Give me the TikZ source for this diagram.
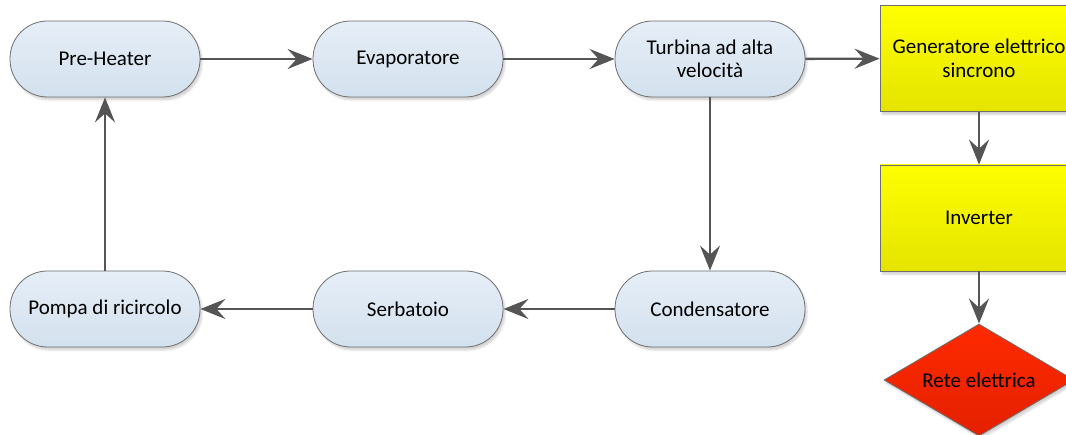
\documentclass[tikz,border=0pt]{standalone}
\usepackage{fontspec}
\setmainfont{Carlito}
\usetikzlibrary{arrows.meta,shapes.geometric,shadows.blur}
\definecolor{bluetop}{HTML}{E6EEF7}
\definecolor{bluebot}{HTML}{D3E1EE}
\definecolor{yeltop}{HTML}{FFFF00}
\definecolor{yelbot}{HTML}{E4E400}
\definecolor{redtop}{HTML}{FF2A00}
\definecolor{redbot}{HTML}{E42000}
\definecolor{edgegray}{HTML}{6E6E6E}
\definecolor{arrowgray}{HTML}{555555}
\tikzset{
  every node/.style={font=\fontsize{21}{23.5}\selectfont, text=black},
  procbox/.style={draw=edgegray, line width=0.8pt, rectangle, rounded corners=37.5pt,
    minimum width=190pt, minimum height=76pt, align=center,
    top color=bluetop, bottom color=bluebot,
    blur shadow={shadow xshift=2pt, shadow yshift=-3pt, shadow blur steps=6, shadow opacity=18}},
  yelbox/.style={draw=edgegray, line width=0.8pt, rectangle,
    minimum width=198pt, minimum height=106pt, align=center,
    top color=yeltop, bottom color=yelbot,
    blur shadow={shadow xshift=2pt, shadow yshift=-3pt, shadow blur steps=6, shadow opacity=18}},
  reddia/.style={draw=edgegray, line width=0.8pt, diamond, aspect=1.7, inner sep=0pt,
    minimum width=190pt, minimum height=112pt,
    top color=redtop, bottom color=redbot,
    blur shadow={shadow xshift=2pt, shadow yshift=-3pt, shadow blur steps=6, shadow opacity=18}},
  flow/.style={draw=arrowgray, line width=2.4pt,
    -{Stealth[length=25pt, width=20pt, inset=9pt]}}
}
\begin{document}
\begin{tikzpicture}[x=1pt, y=-1pt]
\useasboundingbox (0,0) rectangle (1066,435);
\node[procbox] (pre) at (105,59) {Pre-Heater};
\node[procbox] (eva) at (408,59) {Evaporatore};
\node[procbox] (tur) at (710,59) {Turbina ad alta\\velocità};
\node[yelbox] (gen) at (979,58.5) {Generatore elettrico\\sincrono};
\node[yelbox] (inv) at (979,218) {Inverter};
\node[reddia] (rete) at (979,380) {Rete elettrica};
\node[procbox] (pom) at (105,309) {Pompa di ricircolo};
\node[procbox] (ser) at (408,309) {Serbatoio};
\node[procbox] (con) at (710,309) {Condensatore};
\draw[flow] (pre) -- (eva);
\draw[flow] (eva) -- (tur);
\draw[flow] (tur) -- (gen);
\draw[flow] (gen) -- (inv);
\draw[flow] (inv) -- (rete);
\draw[flow] (tur) -- (con);
\draw[flow] (con) -- (ser);
\draw[flow] (ser) -- (pom);
\draw[flow] (pom) -- (pre);
\end{tikzpicture}
\end{document}
